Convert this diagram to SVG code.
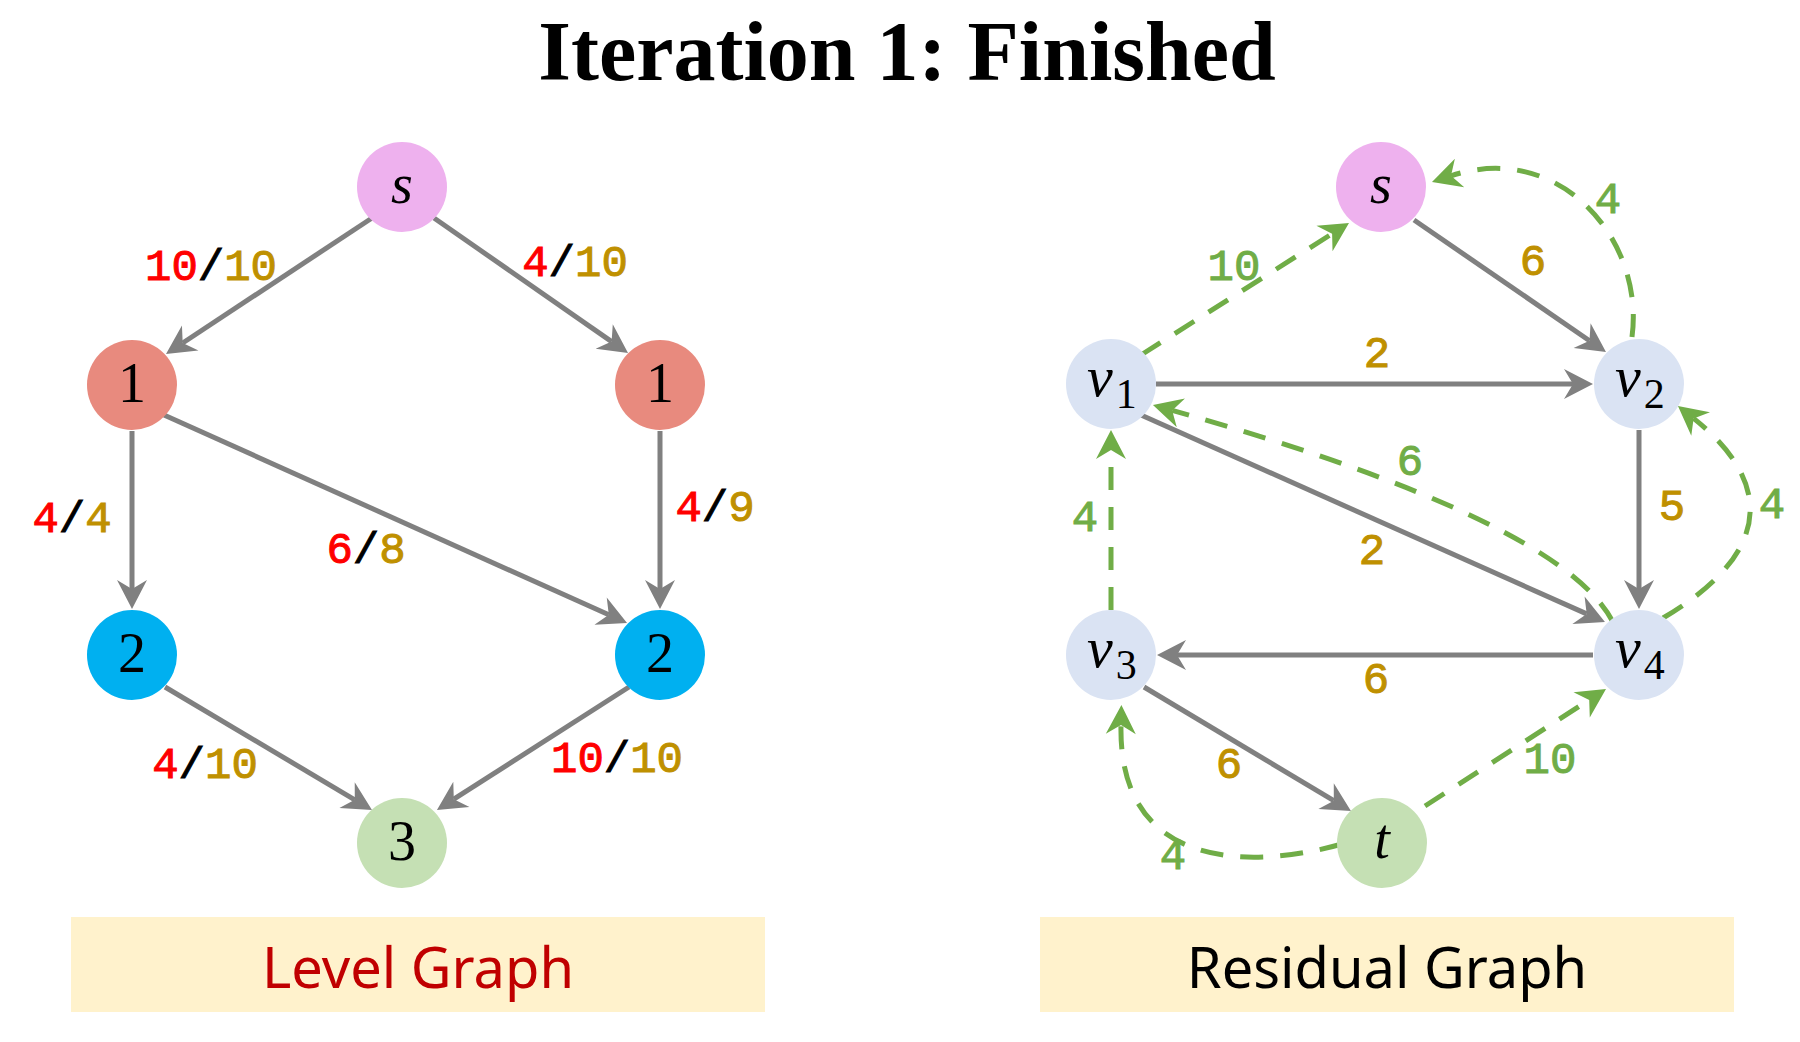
<svg xmlns="http://www.w3.org/2000/svg" width="1800" height="1042" viewBox="0 0 1800 1042">
<style>
.e{fill:none;stroke:#808080;stroke-width:5;marker-end:url(#ag)}
.g{fill:none;stroke:#70AD47;stroke-width:5;stroke-dasharray:23 17;marker-end:url(#agr)}
.m{font-family:"Liberation Mono","DejaVu Sans Mono",monospace;font-size:44px;text-anchor:middle;stroke-width:1}
.r{fill:#FF0000;stroke:#FF0000}.k{fill:#000000;stroke:#000000}.y{fill:#BF9000;stroke:#BF9000}.gr{fill:#70AD47;stroke:#70AD47}
.n{font-family:"Liberation Serif","DejaVu Serif",serif;font-size:56px;text-anchor:middle;fill:#000}
.it{font-style:italic}
.v{font-family:"Liberation Serif","DejaVu Serif",serif;font-size:58px;fill:#000}
.sub{font-style:normal;font-size:42px}
.cap{font-family:"Noto Sans","Open Sans",sans-serif;font-size:56px;text-anchor:middle}
</style>
<defs>
<marker id="ag" markerUnits="userSpaceOnUse" viewBox="-15 -20 40 40" markerWidth="40" markerHeight="40" refX="0" refY="0" orient="auto" overflow="visible"><path d="M20,0 L-9,-15 L0,0 L-9,15 Z" fill="#808080"/></marker>
<marker id="agr" markerUnits="userSpaceOnUse" viewBox="-15 -20 40 40" markerWidth="40" markerHeight="40" refX="0" refY="0" orient="auto" overflow="visible"><path d="M20,0 L-9,-15 L0,0 L-9,15 Z" fill="#70AD47"/></marker>
</defs>
<rect width="1800" height="1042" fill="#FFFFFF"/>
<text x="907" y="80" font-family="Liberation Serif, serif" font-weight="bold" font-size="84" text-anchor="middle" fill="#000">Iteration 1: Finished</text>

<g id="connectors">
<path class="e" d="M372,218 L182.7,343"/>
<path class="e" d="M434,218 L611.6,341.6"/>
<path class="e" d="M132,431 L132,589"/>
<path class="e" d="M660,431 L660,589"/>
<path class="e" d="M164,415 L608.8,614.8"/>
<path class="e" d="M165,687 L354.8,799.8"/>
<path class="e" d="M629,687 L453.8,799.2"/>

<path class="e" d="M1414,220 L1589.5,340.7"/>
<path class="e" d="M1156,384 L1573,384"/>
<path class="e" d="M1639,430 L1639,589"/>
<path class="e" d="M1141,415 L1586.7,613.9"/>
<path class="e" d="M1593,655 L1177,655"/>
<path class="e" d="M1144,687 L1333.8,800.7"/>

<path class="g" d="M1141,355 L1332.1,233.7"/>
<path class="g" d="M1632,337 C1645,240 1560,140 1451,175.8"/>
<path class="g" d="M1613,622 Q1560,520 1172.2,410.4"/>
<path class="g" d="M1663,618 C1770.8,554.5 1775.8,483.9 1693.6,418.4"/>
<path class="g" d="M1111,610 L1111,450"/>
<path class="g" d="M1425,806 L1589.2,699.9"/>
<path class="g" d="M1342,844 C1250,870 1118,870 1121,725"/>
</g>

<g id="edge-labels">
<text class="m" x="211" y="280"><tspan class="r">10</tspan><tspan class="k">/</tspan><tspan class="y">10</tspan></text>
<text class="m" x="575" y="276"><tspan class="r">4</tspan><tspan class="k">/</tspan><tspan class="y">10</tspan></text>
<text class="m" x="72" y="532"><tspan class="r">4</tspan><tspan class="k">/</tspan><tspan class="y">4</tspan></text>
<text class="m" x="715" y="521"><tspan class="r">4</tspan><tspan class="k">/</tspan><tspan class="y">9</tspan></text>
<text class="m" x="366" y="563"><tspan class="r">6</tspan><tspan class="k">/</tspan><tspan class="y">8</tspan></text>
<text class="m" x="205" y="778"><tspan class="r">4</tspan><tspan class="k">/</tspan><tspan class="y">10</tspan></text>
<text class="m" x="617" y="772"><tspan class="r">10</tspan><tspan class="k">/</tspan><tspan class="y">10</tspan></text>

<text class="m gr" x="1234" y="280">10</text>
<text class="m y" x="1533" y="275">6</text>
<text class="m gr" x="1608" y="213">4</text>
<text class="m y" x="1377" y="367">2</text>
<text class="m gr" x="1410" y="475">6</text>
<text class="m y" x="1672" y="520">5</text>
<text class="m gr" x="1772" y="518">4</text>
<text class="m gr" x="1085" y="531">4</text>
<text class="m y" x="1372" y="564">2</text>
<text class="m y" x="1376" y="693">6</text>
<text class="m y" x="1229" y="778">6</text>
<text class="m gr" x="1550" y="773">10</text>
<text class="m gr" x="1173" y="869">4</text>
</g>

<g id="L-s"><circle cx="402" cy="187" r="45" fill="#EEB1EE"/><text class="n it" x="402" y="203">s</text></g>
<g id="L-1a"><circle cx="132" cy="385" r="45" fill="#E88A7E"/><text class="n" x="132" y="402">1</text></g>
<g id="L-1b"><circle cx="660" cy="385" r="45" fill="#E88A7E"/><text class="n" x="660" y="402">1</text></g>
<g id="L-2a"><circle cx="132" cy="655" r="45" fill="#00B0F0"/><text class="n" x="132" y="672">2</text></g>
<g id="L-2b"><circle cx="660" cy="655" r="45" fill="#00B0F0"/><text class="n" x="660" y="672">2</text></g>
<g id="L-3"><circle cx="402" cy="843" r="45" fill="#C5E0B4"/><text class="n" x="402" y="860">3</text></g>

<g id="R-s"><circle cx="1381" cy="187" r="45" fill="#EEB1EE"/><text class="n it" x="1381" y="203">s</text></g>
<g id="R-v1"><circle cx="1111" cy="384" r="45" fill="#DAE3F3"/><text class="v" x="1087" y="396"><tspan class="it">v</tspan><tspan class="sub" dx="3" dy="12">1</tspan></text></g>
<g id="R-v2"><circle cx="1639" cy="384" r="45" fill="#DAE3F3"/><text class="v" x="1615" y="396"><tspan class="it">v</tspan><tspan class="sub" dx="3" dy="12">2</tspan></text></g>
<g id="R-v3"><circle cx="1111" cy="655" r="45" fill="#DAE3F3"/><text class="v" x="1087" y="667"><tspan class="it">v</tspan><tspan class="sub" dx="3" dy="12">3</tspan></text></g>
<g id="R-v4"><circle cx="1639" cy="655" r="45" fill="#DAE3F3"/><text class="v" x="1615" y="667"><tspan class="it">v</tspan><tspan class="sub" dx="3" dy="12">4</tspan></text></g>
<g id="R-t"><circle cx="1382" cy="843" r="45" fill="#C5E0B4"/><text class="n it" x="1382" y="858">t</text></g>

<g id="caption-level"><rect x="71" y="917" width="694" height="95" fill="#FFF2CC"/><text class="cap" x="418" y="988" fill="#C00000">Level Graph</text></g>
<g id="caption-residual"><rect x="1040" y="917" width="694" height="95" fill="#FFF2CC"/><text class="cap" x="1387" y="988" fill="#000">Residual Graph</text></g>
</svg>
